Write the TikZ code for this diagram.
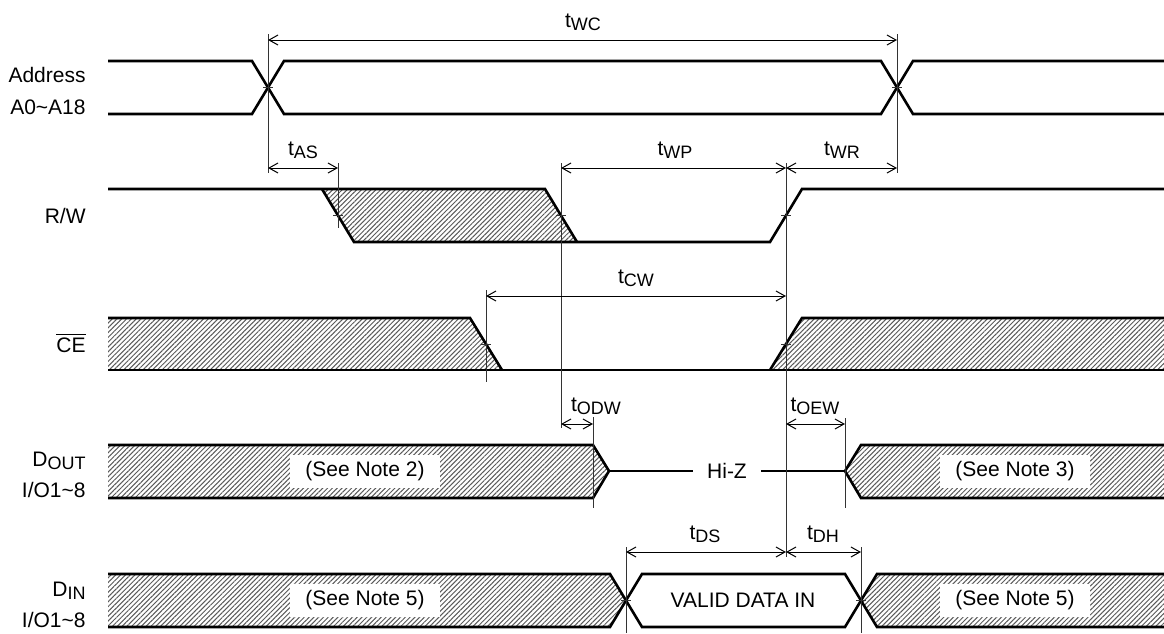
\documentclass[tikz,border=0pt]{standalone}
\usepackage{fontspec}
\setmainfont{Liberation Sans}
\usetikzlibrary{arrows.meta,patterns.meta}
\newcommand{\tsig}[1]{t\raisebox{-1.5pt}{\fontsize{9}{10}\selectfont #1}}
\begin{document}
\begin{tikzpicture}[x=0.5pt, y=-0.5pt, font=\fontsize{10.5}{12}\selectfont,
  sig/.style={line width=1.3pt},
  hatch/.style={pattern={Lines[angle=45,distance=1.7pt,line width=0.5pt]}, pattern color=black!65},
  refl/.style={line width=0.5pt, black!80},
  dim/.style={{Straight Barb[length=4.5pt,width=5pt]}-{Straight Barb[length=4.5pt,width=5pt]}, line width=0.5pt},
  signame/.style={anchor=base east, inner sep=0pt},
  notebox/.style={fill=white, inner xsep=7.5pt, minimum height=16.5pt}]
\useasboundingbox (0,0) rectangle (1164,633);
% signal names
\begin{scope}[every node/.style={signame}]
\node (addr) at (86,82) {Address};
\node (addrb) at (86,114) {A0\textasciitilde A18};
\node (rw) at (86,223) {R/W};
\node (ce) at (86,352) {$\overline{\mbox{CE}}$};
\node (dout) at (86,466) {D\raisebox{-1.5pt}{\fontsize{9}{10}\selectfont OUT}};
\node (doutb) at (86,497) {I/O1\textasciitilde 8};
\node (din) at (86,596) {D\raisebox{-1.5pt}{\fontsize{9}{10}\selectfont IN}};
\node (dinb) at (86,627) {I/O1\textasciitilde 8};
\end{scope}
% hatched (don't care) areas
\fill[hatch] (322,189) -- (545,189) -- (577,242) -- (354,242) -- cycle;
\fill[hatch] (108,318) -- (470,318) -- (502,370) -- (108,370) -- cycle;
\fill[hatch] (770,370) -- (802,318) -- (1164,318) -- (1164,370) -- cycle;
\fill[hatch] (108,445) -- (593,445) -- (609,471) -- (593,498) -- (108,498) -- cycle;
\fill[hatch] (845,471) -- (861,445) -- (1164,445) -- (1164,498) -- (861,498) -- cycle;
\fill[hatch] (108,574) -- (610,574) -- (626,600) -- (610,627) -- (108,627) -- cycle;
\fill[hatch] (861,600) -- (877,574) -- (1164,574) -- (1164,627) -- (877,627) -- cycle;
\node[notebox] (n2) at (365,471) {(See Note 2)};
\node[notebox] (n3) at (1015,471) {(See Note 3)};
\node[notebox] (n5a) at (365,600) {(See Note 5)};
\node[notebox] (n5b) at (1015,600) {(See Note 5)};
% waveforms
\begin{scope}[sig]
\draw (108,61) -- (252,61) -- (284,114) -- (881,114) -- (913,61) -- (1164,61);
\draw (108,114) -- (252,114) -- (284,61) -- (881,61) -- (913,114) -- (1164,114);
\draw (108,189) -- (545,189) -- (577,242);
\draw (322,189) -- (354,242) -- (770,242) -- (802,189) -- (1164,189);
\draw (108,318) -- (470,318) -- (502,370);
\draw (770,370) -- (802,318) -- (1164,318);
\draw (108,370) -- (1164,370);
\draw (108,445) -- (593,445) -- (609,471) -- (593,498) -- (108,498);
\draw (1164,445) -- (861,445) -- (845,471) -- (861,498) -- (1164,498);
\draw (108,574) -- (610,574) -- (642,627) -- (845,627) -- (877,574) -- (1164,574);
\draw (108,627) -- (610,627) -- (642,574) -- (845,574) -- (877,627) -- (1164,627);
\end{scope}
\draw[line width=1pt] (609,471) -- node[fill=white, inner xsep=7pt] (hiz) {Hi-Z} (845,471);
\node (valid) at (743,600) {VALID DATA IN};
% reference lines and crossing ticks
\foreach \x/\ya/\yb in {268/34/173, 897/34/173, 338/163/228, 561/163/428, 786/163/557,
  486/290/382, 593/417/508, 845/418/508, 626/547/633, 861/547/633}
  \draw[refl] (\x,\ya) -- (\x,\yb);
\foreach \x/\y in {268/87, 897/87, 338/215, 561/215, 786/215, 486/344, 786/344, 626/600, 861/600}
  \draw[refl] (\x-5,\y) -- (\x+5,\y);
% timing parameters
\foreach \id/\xa/\xb/\yy/\lx/\sub in {wc/268/897/40/583/WC, as/268/338/168/303/AS,
  wp/561/786/168/675/WP, wr/786/897/168/842/WR, cw/486/786/296/636/CW,
  odw/561/593/424/596/ODW, oew/786/845/424/815/OEW, ds/626/786/552/705/DS, dh/786/861/552/823/DH}
{
  \coordinate (\id-a) at (\xa,\yy);
  \coordinate (\id-b) at (\xb,\yy);
  \draw[dim] (\id-a) -- (\id-b);
  \node[anchor=base] (\id-lbl) at (\lx,\yy-13) {\tsig{\sub}};
}
\end{tikzpicture}
\end{document}
